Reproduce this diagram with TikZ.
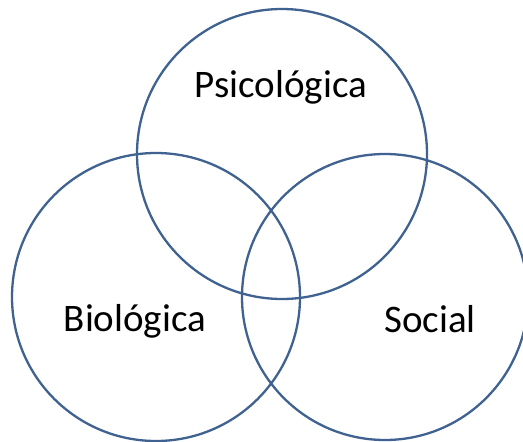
\documentclass[tikz,border=0pt]{standalone}
\usepackage{fontspec}
\setmainfont{Carlito}
\definecolor{ringblue}{HTML}{3F6290}
\begin{document}
\begin{tikzpicture}[x=1pt,y=-1pt,
  ring/.style={draw=ringblue,line width=2.3pt},
  lbl/.style={anchor=base,font=\fontsize{39}{42}\selectfont,inner sep=0pt}]
\useasboundingbox (0,0) rectangle (523,442);
\clip (0,0) rectangle (523,442);
\node[ring,circle,minimum size=290pt,inner sep=0pt] (psi) at (282,154) {};
\node[ring,circle,minimum size=288pt,inner sep=0pt] (bio) at (156,297) {};
\node[ring,circle,minimum size=286pt,inner sep=0pt] (soc) at (385,297) {};
\node[lbl] (tpsi) at (281,97) {Psicológica};
\node[lbl] (tbio) at (135,331) {Biológica};
\node[lbl] (tsoc) at (430,332) {Social};
\end{tikzpicture}
\end{document}
